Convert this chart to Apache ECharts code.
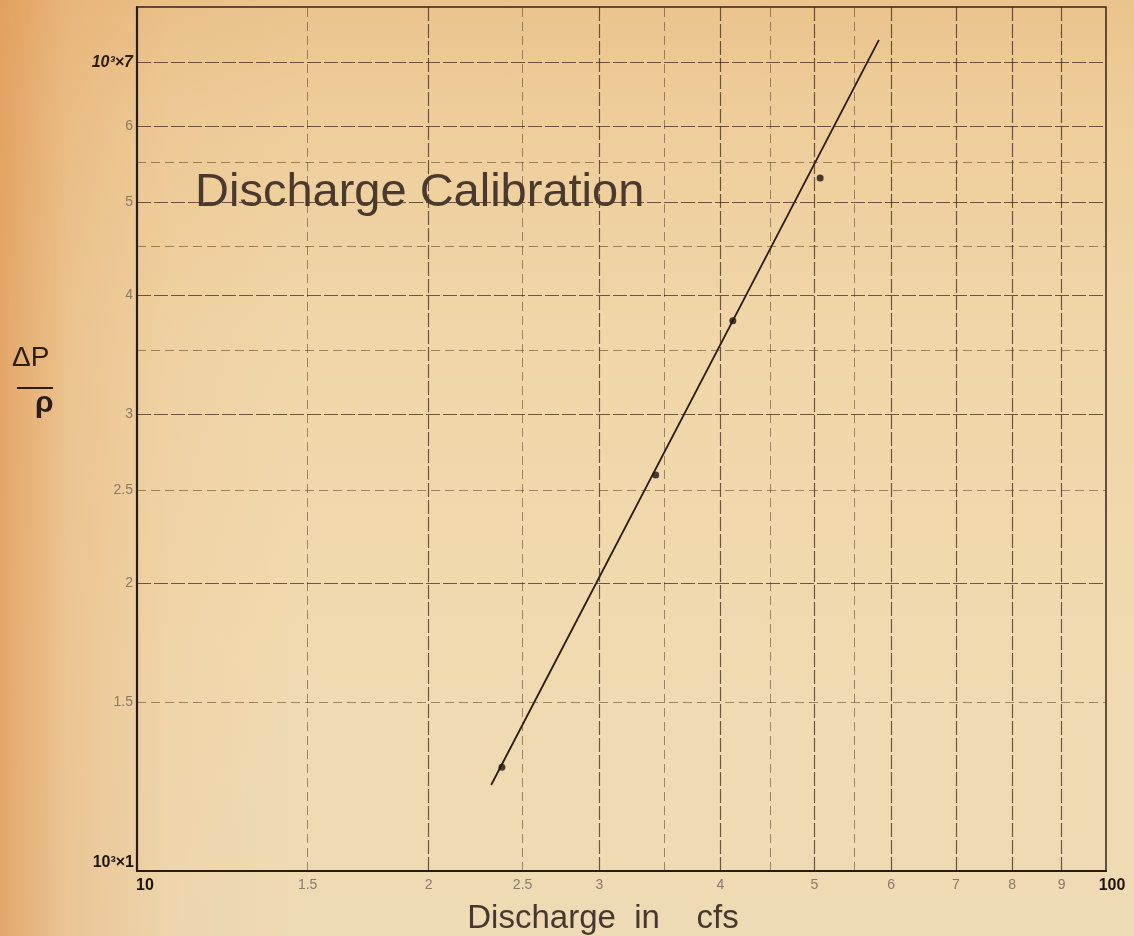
<!DOCTYPE html>
<html>
<head>
<meta charset="utf-8">
<script src="https://cdn.jsdelivr.net/npm/echarts@6/dist/echarts.min.js"></script>
<style>
  html, body { margin: 0; padding: 0; }
  #chart {
    width: 1134px; height: 936px;
    background:
      linear-gradient(to right, rgba(222,145,75,0.7) 0%, rgba(225,150,80,0.3) 6%, rgba(225,150,80,0.08) 15%, rgba(225,150,80,0) 26%),
      linear-gradient(to bottom, #ebc38c 0%, #eecd9a 12%, #f0d6a8 35%, #f1dab0 70%, #eedab4 100%);
  }
</style>
</head>
<body>
<div id="chart"></div>
<script>
// ---- data ----
const pointsX = [23.8, 34.3, 41.2, 50.7];          // discharge (cfs)
const pointsY = [1284, 2593, 3760, 5300];          // ΔP/ρ
const fitLineX = [23.2, 58.3];                      // drawn calibration line ends
const fitLineY = [1230, 7390];

const xGridValues = [15, 20, 25, 30, 35, 40, 45, 50, 55, 60, 70, 80, 90];
const xGridLabels = ['1.5', '2', '2.5', '3', '', '4', '', '5', '', '6', '7', '8', '9'];
const xGridMajor  = [false, true, false, true, false, true, false, true, false, true, true, true, true];

const yGridValues = [1500, 2000, 2500, 3000, 3500, 4000, 4500, 5000, 5500, 6000, 7000];
const yGridLabels = ['1.5', '2', '2.5', '3', '', '4', '', '5', '', '6', '10³×7'];
const yGridMajor  = [false, true, false, true, false, true, false, true, false, true, true];

const xAxisRange = [10, 100];
const yAxisRange = [1000, 8000];
const xEndLabels = { 10: '10', 100: '100' };
const yEndLabels = { 1000: '10³×1' };

// ---- styles ----
const majorStyle = { color: 'rgba(58,36,24,0.72)', width: 1.2, type: [14, 3] };
const minorStyle = { color: 'rgba(70,45,30,0.5)', width: 1, type: [9, 5] };
const tickLabelStyle = { color: '#8a7a6a', fontSize: 14, fontFamily: 'Liberation Sans' };

const markData = [];
xGridValues.forEach((v, i) => {
  markData.push({
    xAxis: v,
    lineStyle: xGridMajor[i] ? majorStyle : minorStyle,
    label: Object.assign({ show: xGridLabels[i] !== '', position: 'start', distance: 7,
      formatter: xGridLabels[i] }, tickLabelStyle)
  });
});
yGridValues.forEach((v, i) => {
  const isTop = i === yGridValues.length - 1;
  markData.push({
    yAxis: v,
    lineStyle: yGridMajor[i] ? majorStyle : minorStyle,
    label: Object.assign({ show: yGridLabels[i] !== '', position: 'start', distance: 4,
      formatter: yGridLabels[i] }, tickLabelStyle,
      isTop ? { color: '#2a1c14', fontWeight: 'bold', fontStyle: 'italic', fontSize: 16 } : {})
  });
});

const chart = echarts.init(document.getElementById('chart'), null, { renderer: 'canvas' });
chart.setOption({
  backgroundColor: 'transparent',
  animation: false,
  title: {
    text: 'Discharge Calibration',
    left: 190, top: 165,
    textStyle: { fontFamily: 'Liberation Sans', fontSize: 47, fontWeight: 'normal', color: '#4a3a2e' }
  },
  grid: {
    left: 137, right: 28, top: 7, bottom: 65,
    outerBoundsMode: 'none', containLabel: false,
    show: true, borderColor: '#33231a', borderWidth: 1.5, backgroundColor: 'transparent'
  },
  xAxis: {
    type: 'log', logBase: 10, min: xAxisRange[0], max: xAxisRange[1],
    name: 'Discharge  in    cfs',
    nameLocation: 'middle', nameGap: 31,
    nameTextStyle: { fontFamily: 'Liberation Sans', fontSize: 33, color: '#463830', padding: [0, 37, 0, 0] },
    axisLine: { show: true, lineStyle: { color: '#2b1d16', width: 2.2 } },
    axisTick: { show: false },
    splitLine: { show: false },
    axisLabel: {
      margin: 7,
      formatter: v => {
        const k = Math.round(v);
        if (k === 10) return '{a|' + xEndLabels[10] + '}';
        if (k === 100) return '{b|' + xEndLabels[100] + '}';
        return '';
      },
      rich: {
        a: { fontFamily: 'Liberation Sans', fontSize: 16, fontWeight: 'bold', color: '#1e140e', padding: [0, 0, 0, 16] },
        b: { fontFamily: 'Liberation Sans', fontSize: 16, fontWeight: 'bold', color: '#1e140e', padding: [0, 0, 0, 12] }
      }
    }
  },
  yAxis: {
    type: 'log', logBase: 10, min: yAxisRange[0], max: yAxisRange[1],
    axisLine: { show: true, lineStyle: { color: '#2b1d16', width: 2.2 } },
    axisTick: { show: false },
    splitLine: { show: false },
    axisLabel: {
      margin: 3, verticalAlign: 'bottom',
      fontFamily: 'Liberation Sans', fontSize: 16, fontWeight: 'bold', color: '#1e140e',
      formatter: v => yEndLabels[Math.round(v)] || ''
    }
  },
  graphic: [
    { type: 'text', left: 12, top: 344, style: { text: 'ΔP', font: '28px "Liberation Sans"', fill: '#2b1d16' } },
    { type: 'line', shape: { x1: 17, y1: 388, x2: 53, y2: 388 }, style: { stroke: '#2b1d16', lineWidth: 2 } },
    { type: 'text', left: 35, top: 389, style: { text: 'ρ', font: 'bold 30px "Liberation Sans"', fill: '#2b1d16' } }
  ],
  series: [
    {
      name: 'grid', type: 'line', data: [], z: 1, silent: true,
      markLine: { silent: true, symbol: ['none', 'none'], animation: false, data: markData }
    },
    {
      name: 'calibration', type: 'line', z: 3, silent: true,
      data: fitLineX.map((x, i) => [x, fitLineY[i]]),
      showSymbol: false, symbol: 'none',
      lineStyle: { color: '#2a1d16', width: 1.8 }
    },
    {
      name: 'measured', type: 'scatter', z: 4, silent: true,
      data: pointsX.map((x, i) => [x, pointsY[i]]),
      symbolSize: 7, itemStyle: { color: '#1c130e' }
    }
  ]
});
</script>
</body>
</html>
